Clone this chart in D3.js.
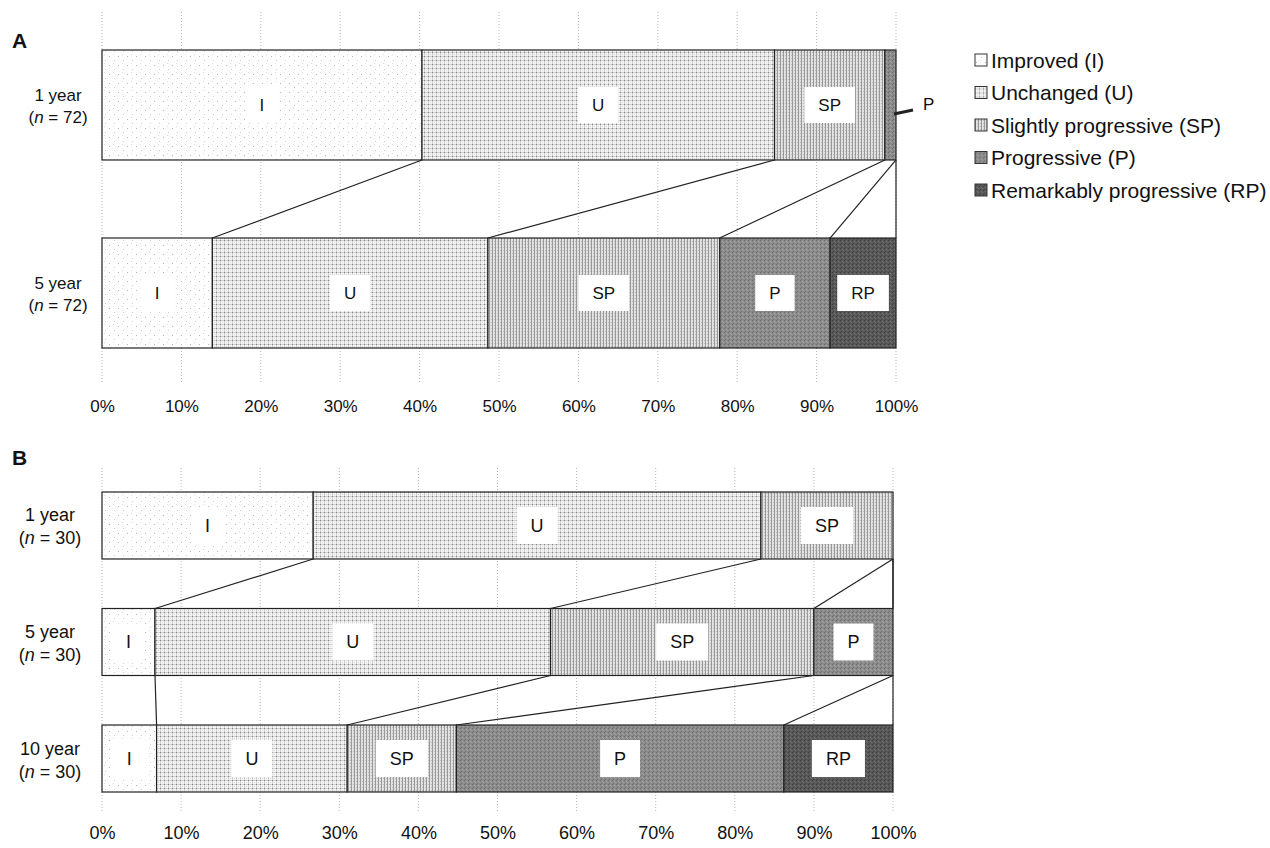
<!DOCTYPE html>
<html>
<head>
<meta charset="utf-8">
<script src="https://cdn.jsdelivr.net/npm/d3@7"></script>
<style>
  body { margin: 0; background: #fff; }
  text { font-family: "Liberation Sans", Arial, sans-serif; fill: #111; }
</style>
</head>
<body>
<svg id="chart" width="1270" height="848"></svg>
<script>
// categories
const codes = ["I", "U", "SP", "P", "RP"];
const legendLabels = ["Improved (I)", "Unchanged (U)", "Slightly progressive (SP)", "Progressive (P)", "Remarkably progressive (RP)"];
const tickValues = [0, 10, 20, 30, 40, 50, 60, 70, 80, 90, 100];

// panel A (percent of patients)
const rowsA = ["1 year", "5 year"];
const nA = ["72", "72"];
const a1year = [40.3, 44.4, 13.9, 1.4, 0];
const a5year = [13.9, 34.7, 29.2, 13.9, 8.3];

// panel B
const rowsB = ["1 year", "5 year", "10 year"];
const nB = ["30", "30", "30"];
const b1year = [26.7, 56.6, 16.7, 0, 0];
const b5year = [6.7, 50.0, 33.3, 10.0, 0];
const b10year = [6.9, 24.1, 13.8, 41.4, 13.8];

const svg = d3.select("#chart");
const defs = svg.append("defs");

// halftone-like fills
function makePattern(id, size, base, dots) {
    const p = defs.append("pattern")
        .attr("id", id)
        .attr("width", size).attr("height", size)
        .attr("patternUnits", "userSpaceOnUse");
    p.append("rect").attr("width", size).attr("height", size).attr("fill", base);
    dots.forEach(d => {
        p.append("rect")
            .attr("x", d[0]).attr("y", d[1])
            .attr("width", d[2]).attr("height", d[3])
            .attr("fill", d[4]);
    });
}
makePattern("pat-I", 9, "#fefefe", [[1, 2, 1, 1, "#b8b8b8"], [6, 6, 1, 1, "#d0d0d0"], [5, 0, 1, 1, "#e2e2e2"]]);
makePattern("pat-U", 4, "#f6f6f6", [[0, 0, 4, 1, "#cfcfcf"], [0, 0, 1, 4, "#cfcfcf"], [0, 0, 1, 1, "#8a8a8a"], [2, 2, 1, 1, "#d8d8d8"]]);
makePattern("pat-SP", 3, "#e2e2e2", [[0, 0, 1, 3, "#999"], [2, 1, 1, 1, "#bbb"]]);
makePattern("pat-P", 4, "#8b8b8b", [[0, 0, 1, 1, "#6a6a6a"], [2, 1, 1, 1, "#a9a9a9"], [1, 3, 1, 1, "#737373"], [3, 2, 1, 1, "#9d9d9d"]]);
makePattern("pat-RP", 4, "#585858", [[0, 0, 1, 1, "#3c3c3c"], [2, 1, 1, 1, "#747474"], [1, 3, 1, 1, "#444"], [3, 2, 1, 1, "#6a6a6a"]]);

function drawPanel(opts) {
    const g = svg.append("g");
    const x = d3.scaleLinear().domain([0, 100]).range(opts.xRange);
    const y = d3.scaleBand().domain(opts.rows).range(opts.yRange)
        .paddingInner(opts.padding).paddingOuter(0);
    const bh = y.bandwidth();

    // panel letter
    g.append("text")
        .attr("x", 12).attr("y", opts.letterY)
        .attr("font-size", 21).attr("font-weight", "bold")
        .text(opts.letter);

    // dotted gridlines
    g.append("g").selectAll("line")
        .data(tickValues)
        .enter().append("line")
        .attr("x1", d => x(d)).attr("x2", d => x(d))
        .attr("y1", opts.gridTop).attr("y2", opts.gridBottom)
        .attr("stroke", "#b5b5b5")
        .attr("stroke-width", 1)
        .attr("stroke-dasharray", "1,2");

    // x axis labels
    const axis = d3.axisBottom(x)
        .tickValues(tickValues)
        .tickFormat(d => d + "%")
        .tickSize(0)
        .tickPadding(0);
    const ax = g.append("g")
        .attr("transform", "translate(0," + opts.axisY + ")")
        .call(axis);
    ax.select(".domain").remove();
    ax.selectAll("text")
        .attr("font-size", opts.tickFont)
        .attr("font-family", '"Liberation Sans", Arial, sans-serif')
        .attr("fill", "#111");

    const cums = opts.data.map(vals => {
        let c = 0;
        return vals.map(v => { const s = c; c += v; return [s, c]; });
    });

    // connector lines between consecutive bars
    for (let r = 0; r < opts.rows.length - 1; r++) {
        const yTop = y(opts.rows[r]) + bh;
        const yBot = y(opts.rows[r + 1]);
        g.append("g").selectAll("line")
            .data(codes.map((c, k) => [cums[r][k][1], cums[r + 1][k][1]]))
            .enter().append("line")
            .attr("x1", d => x(Math.min(d[0], 100)))
            .attr("y1", yTop)
            .attr("x2", d => x(Math.min(d[1], 100)))
            .attr("y2", yBot)
            .attr("stroke", "#222")
            .attr("stroke-width", 1.2);
    }

    // stacked bars
    opts.rows.forEach((row, r) => {
        const segs = codes.map((c, k) => ({code: c, k: k, s: cums[r][k][0], e: Math.min(cums[r][k][1], 100)}))
            .filter(d => d.e - d.s > 0);
        const rg = g.append("g");
        rg.selectAll("rect")
            .data(segs)
            .enter().append("rect")
            .attr("x", d => x(d.s))
            .attr("y", y(row))
            .attr("width", d => x(d.e) - x(d.s))
            .attr("height", bh)
            .attr("fill", d => "url(#pat-" + d.code + ")")
            .attr("stroke", "#222")
            .attr("stroke-width", 1.2);

        const mid = y(row) + bh / 2;
        segs.forEach(d => {
            const w = x(d.e) - x(d.s);
            if (w < 25) {
                // callout for tiny segment
                rg.append("line")
                    .attr("x1", x(d.e) - 2).attr("y1", mid + 9)
                    .attr("x2", x(d.e) + 17).attr("y2", mid + 5)
                    .attr("stroke", "#222").attr("stroke-width", 3);
                rg.append("text")
                    .attr("x", x(d.e) + 27).attr("y", mid + 5)
                    .attr("font-size", opts.barFont)
                    .text(d.code);
                return;
            }
            const cx = (x(d.s) + x(d.e)) / 2;
            const t = rg.append("text")
                .attr("x", cx).attr("y", mid + opts.barFont * 0.36)
                .attr("text-anchor", "middle")
                .attr("font-size", opts.barFont)
                .text(d.code);
            const tw = t.node().getComputedTextLength();
            const bw = Math.min(tw + 28, w - 2);
            rg.insert("rect", "text")
                .attr("x", cx - bw / 2).attr("y", mid - opts.boxH / 2)
                .attr("width", bw).attr("height", opts.boxH)
                .attr("fill", "#fff");
            rg.node().appendChild(t.node());
        });

        // row label
        const lab = g.append("text")
            .attr("x", opts.labelX)
            .attr("text-anchor", "middle")
            .attr("font-size", opts.labelFont);
        lab.append("tspan").attr("x", opts.labelX).attr("y", mid - 4).text(row);
        const l2 = lab.append("tspan").attr("x", opts.labelX).attr("y", mid + opts.labelFont + 1);
        l2.append("tspan").text("(");
        l2.append("tspan").attr("font-style", "italic").text("n");
        l2.append("tspan").text(" = " + opts.ns[r] + ")");
    });
}

drawPanel({
    letter: "A", letterY: 48,
    rows: rowsA, ns: nA, data: [a1year, a5year],
    xRange: [102, 896], yRange: [50, 348], padding: 0.415,
    gridTop: 12, gridBottom: 382, axisY: 400,
    tickFont: 17, labelFont: 17, barFont: 17, boxH: 36, labelX: 58
});

drawPanel({
    letter: "B", letterY: 465,
    rows: rowsB, ns: nB, data: [b1year, b5year, b10year],
    xRange: [102, 893], yRange: [492, 792], padding: 0.425,
    gridTop: 468, gridBottom: 813, axisY: 826,
    tickFont: 18, labelFont: 18, barFont: 18, boxH: 37, labelX: 50
});

// legend
const legend = svg.append("g").attr("transform", "translate(975,60)");
const li = legend.selectAll("g")
    .data(codes)
    .enter().append("g")
    .attr("transform", (d, i) => "translate(0," + (i * 32.5) + ")");
li.append("rect")
    .attr("x", 0).attr("y", -6)
    .attr("width", 12).attr("height", 12)
    .attr("fill", d => "url(#pat-" + d + ")")
    .attr("stroke", "#333").attr("stroke-width", 1);
li.append("text")
    .attr("x", 16).attr("y", 7.5)
    .attr("font-size", 21)
    .text((d, i) => legendLabels[i]);
</script>
</body>
</html>
